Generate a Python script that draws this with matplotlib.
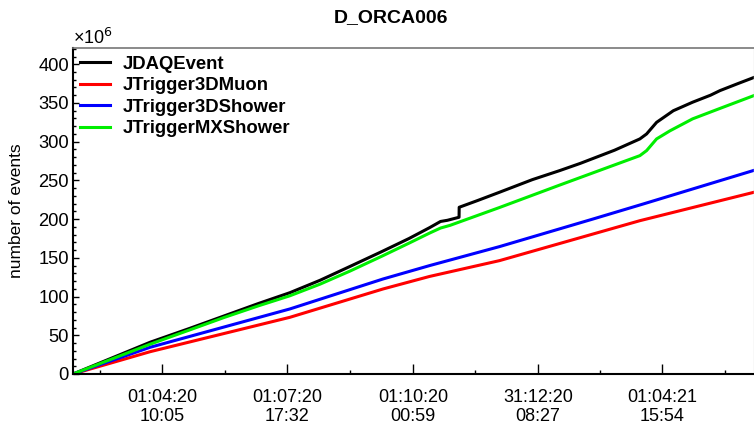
import matplotlib
matplotlib.use("Agg")
import matplotlib.pyplot as plt
from matplotlib.ticker import MultipleLocator, FixedLocator

plt.rcParams['font.family'] = ['Liberation Sans', 'DejaVu Sans']

# x: days since 2020-04-01 ; y: events in units of 1e6
black_days = [-65.3, -9, 20, 45, 70, 93, 115, 137, 160, 180, 195, 203, 208,
              216.5, 216.6, 230, 246, 270, 290, 305, 330, 348.5, 353.4, 360.7, 372.9, 387, 400, 407, 420, 431.8]
black_vals = [0, 41, 59, 75, 91, 105, 121, 139, 158, 175, 189, 197, 198.5,
              202.4, 215.3, 224, 234.7, 251, 262.7, 272, 289, 303.6, 310, 325, 340, 351, 360, 366, 375, 383]

green_days = [-65.3, -9, 20, 45, 70, 93, 115, 137, 160, 180, 195, 203, 210, 246, 290, 330, 348.5, 353.4, 360.7, 370.4, 387, 407, 431.8]
green_vals = [0, 38.5, 57, 73, 88, 101, 116, 133, 152, 169, 182, 188.5, 192, 215, 244, 270, 282, 288.5, 303.6, 314, 329.5, 343, 359.6]

blue_days = [-65.3, -9, 93, 161, 195, 246, 314, 351, 431.8]
blue_vals = [0, 34.5, 84, 122.7, 140, 164.5, 200, 219.6, 263]

red_days = [-65.3, -9, 93, 161, 195, 246, 348.5, 431.8]
red_vals = [0, 28.8, 73.2, 109.8, 126, 146.4, 198, 234.7]

tick_days = [0, 91, 183, 274, 365]
tick_labels = ["01:04:20\n10:05", "01:07:20\n17:32", "01:10:20\n00:59", "31:12:20\n08:27", "01:04:21\n15:54"]
minor_days = [-45.5, 45.5, 137, 228.5, 319.5, 410.5]

series = [
    ("JDAQEvent", black_days, black_vals, "#000000"),
    ("JTrigger3DMuon", red_days, red_vals, "#ff0000"),
    ("JTrigger3DShower", blue_days, blue_vals, "#0000ff"),
    ("JTriggerMXShower", green_days, green_vals, "#00ee00"),
]

fig = plt.figure(figsize=(7.54, 4.25), dpi=100)
ax = fig.add_axes([73/754, 1-374/425, (754-73)/754, (374-48)/425])

for name, xd, yd, c in series:
    ax.plot(xd, yd, color=c, lw=2.2, label=name, solid_joinstyle='round')

ax.set_xlim(-65.3, 431.8)
ax.set_ylim(0, 421)

ax.xaxis.set_major_locator(FixedLocator(tick_days))
ax.set_xticklabels(tick_labels, fontsize=13, linespacing=1.22)
ax.xaxis.set_minor_locator(FixedLocator(minor_days))
ax.yaxis.set_major_locator(MultipleLocator(50))
ax.yaxis.set_minor_locator(MultipleLocator(10))
ax.tick_params(axis='y', which='major', direction='in', length=4, width=1, labelsize=13.2, pad=3)
ax.tick_params(axis='y', which='minor', direction='in', length=2.2, width=1)
ax.tick_params(axis='x', which='major', direction='in', length=7.5, width=1, labelsize=13, pad=10.5)
ax.tick_params(axis='x', which='minor', direction='in', length=3.2, width=1)

for s in ['left', 'bottom']:
    ax.spines[s].set_linewidth(1.5)
    ax.spines[s].set_color('black')
ax.spines['top'].set_color('#777777')
ax.spines['top'].set_linewidth(1.2)
ax.spines['right'].set_color('#dddddd')
ax.spines['right'].set_linewidth(1.0)

ax.set_ylabel("number of events", fontsize=12.5, labelpad=10)
ax.text(0.0, 1.0, "×10$^6$", transform=ax.transAxes, fontsize=13, ha='left', va='bottom')

fig.text(0.519, 1-18/425, "D_ORCA006", fontsize=14, fontweight='bold', ha='center', va='center')

leg = ax.legend(loc='upper left', frameon=False, prop={'weight': 'bold', 'size': 13.3},
                handlelength=1.6, handletextpad=0.7, labelspacing=0.245,
                borderaxespad=0.0, borderpad=0.2, bbox_to_anchor=(0.005, 0.988))

fig.savefig("out.png", dpi=100)
